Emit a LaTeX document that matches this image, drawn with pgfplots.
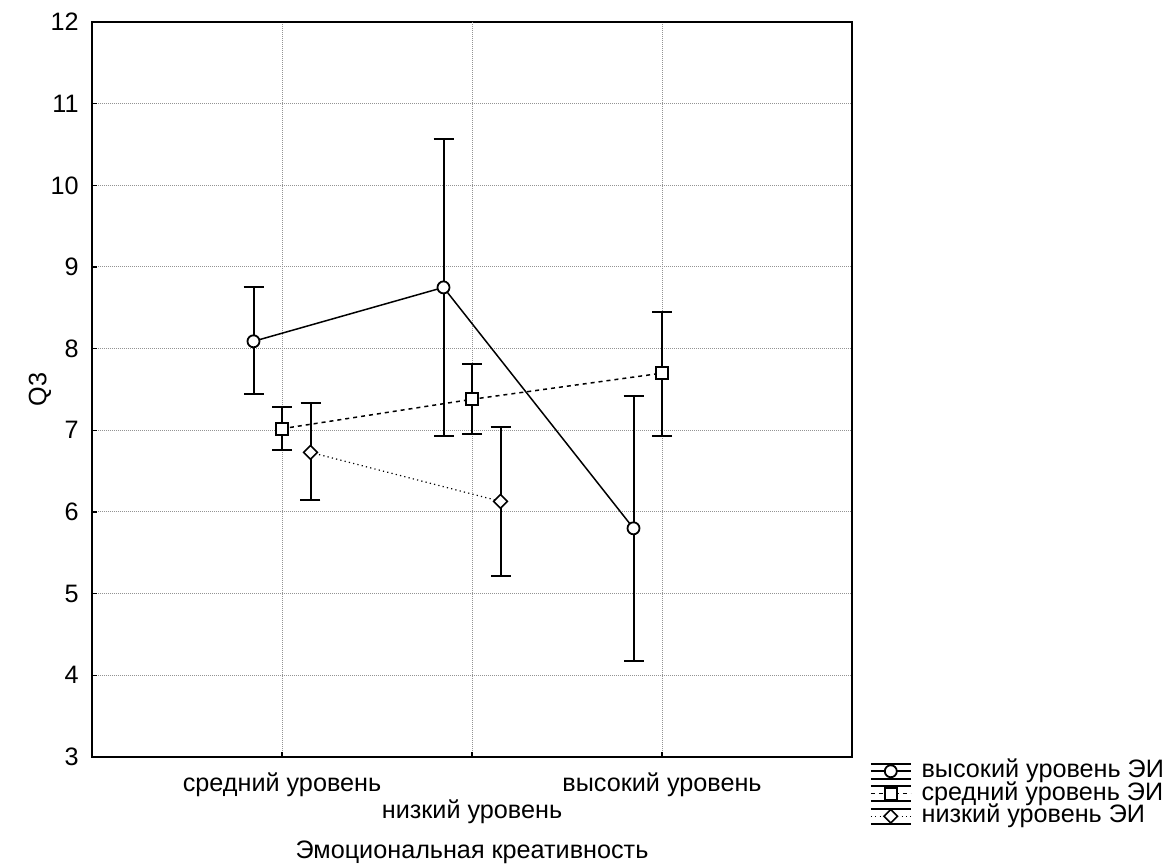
\documentclass[border=0pt]{standalone}
\usepackage{fontspec}
\setmainfont{Liberation Sans}
\usepackage{pgfplots}
\usepackage{pgfplotstable}
\pgfplotsset{compat=1.18}

\pgfplotstableread{
x y ep em
-0.15 8.09 0.66 0.65
0.85 8.75 1.82 1.82
1.85 5.80 1.62 1.62
}\high
\pgfplotstableread{
x y ep em
0 7.02 0.27 0.26
1 7.38 0.43 0.42
2 7.70 0.75 0.77
}\mid
\pgfplotstableread{
x y ep em
0.15 6.73 0.60 0.58
1.15 6.13 0.91 0.91
}\low

\begin{document}
\begin{tikzpicture}[font=\fontsize{12.6}{15}\selectfont]
\begin{axis}[
  at={(0pt,0pt)}, anchor=south west,
  scale only axis, width=380pt, height=367.5pt,
  xmin=-1, xmax=3, ymin=3, ymax=12,
  ytick={3,4,...,12},
  xtick={0,2},
  xticklabels={средний уровень, высокий уровень},
  extra x ticks={1},
  extra x tick labels={низкий уровень},
  extra x tick style={grid=major, xticklabel style={yshift=-13.5pt}},
  tick pos=left, tick align=inside, major tick length=2.5pt,
  tick style={black, line width=0.6pt},
  axis line style={black, line width=0.8pt},
  grid=major,
  major grid style={gray!85, line width=0.5pt, dash pattern=on 0.5pt off 0.5pt},
  /pgf/number format/assume math mode=true,
  yticklabel style={anchor=east, inner sep=0pt, xshift=-6.5pt},
  xticklabel style={anchor=base, inner sep=0pt, yshift=-17.5pt},
  xlabel={Эмоциональная креативность},
  ylabel={Q3},
  every axis x label/.style={at={(axis description cs:0.5,0)}, anchor=base, yshift=-51pt},
  every axis y label/.style={at={(axis description cs:-0.0684,0.5)}, anchor=center, rotate=90},
  legend style={draw=none, fill=none, inner sep=0pt, outer sep=0pt,
    at={(axis description cs:1,0)}, anchor=north west, xshift=9pt, yshift=-1.5pt,
    row sep=0pt, column sep=5pt,
    nodes={inner sep=0pt, anchor=west, text height=9pt, text depth=2.25pt}},
  legend cell align=left,
  legend image code/.code={
    \draw[solid, black, line width=0.8pt] (0pt,3.75pt)--(20pt,3.75pt) (0pt,-3.75pt)--(20pt,-3.75pt) (10pt,-3.75pt)--(10pt,3.75pt);
    \draw[mark repeat=2, mark phase=2, #1] plot coordinates {(0pt,0pt) (10pt,0pt) (20pt,0pt)};
  },
  error bars/error bar style={solid, black, line width=1pt},
  error bars/error mark options={rotate=90, mark size=5pt, line width=1pt, black, solid},
]
\addplot[black, line width=0.75pt, mark=*, mark size=3pt,
  mark options={fill=white, solid, line width=0.9pt},
  error bars/.cd, y dir=both, y explicit, error bar style={line width=1pt}]
  table[x=x, y=y, y error plus=ep, y error minus=em] {\high};
\addlegendentry{высокий уровень ЭИ}
\addplot[black, line width=0.75pt, dash pattern=on 2pt off 2pt, mark=square*, mark size=3pt,
  mark options={fill=white, solid, line width=1pt},
  error bars/.cd, y dir=both, y explicit, error bar style={line width=1pt}]
  table[x=x, y=y, y error plus=ep, y error minus=em] {\mid};
\addlegendentry{средний уровень ЭИ}
\addplot[black, line width=0.6pt, dash pattern=on 0.6pt off 1.6pt, mark=square*, mark size=2.4pt,
  mark options={fill=white, solid, line width=0.8pt, rotate=45},
  error bars/.cd, y dir=both, y explicit, error bar style={line width=1pt}]
  table[x=x, y=y, y error plus=ep, y error minus=em] {\low};
\addlegendentry{низкий уровень ЭИ}
\end{axis}
\pgfresetboundingbox
\path[use as bounding box] (-46pt,-54pt) rectangle (538pt,378.5pt);
\end{tikzpicture}
\end{document}
